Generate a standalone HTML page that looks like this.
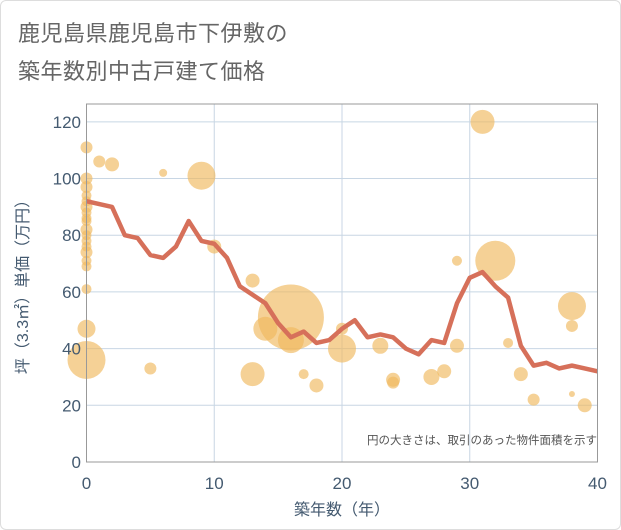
<!DOCTYPE html>
<html><head><meta charset="utf-8"><style>
body{margin:0;background:#fff;}
#wrap{position:relative;width:619px;height:528px;border:1px solid #ddd;border-radius:6px;overflow:hidden;background:#fff;}
svg text{font-family:"Liberation Sans","Noto Sans CJK JP",sans-serif;}
</style></head><body>
<div id="wrap">
<svg id="chart" width="621" height="530">
<text x="17" y="40" font-size="22" fill="#666" letter-spacing="0.5">鹿児島県鹿児島市下伊敷の</text>
<text x="17" y="78" font-size="22" fill="#666" letter-spacing="0.5">築年数別中古戸建て価格</text>
<g id="grid"></g><g id="bubbles"></g><g id="line"></g><g id="axes"></g>
<text x="596" y="443" font-size="11.5" fill="#555" text-anchor="end">円の大きさは、取引のあった物件面積を示す</text>
<text x="341" y="514" font-size="16" fill="#445a70" text-anchor="middle">築年数（年）</text>
<text transform="translate(27,282) rotate(-90)" font-size="16" fill="#445a70" text-anchor="middle">坪（3.3㎡）単価（万円）</text>
</svg>
</div>
<script>
const lineYears=[0,1,2,3,4,5,6,7,8,9,10,11,12,13,14,15,16,17,18,19,20,21,22,23,24,25,26,27,28,29,30,31,32,33,34,35,36,37,38,39,40];
const linePrices=[92,91,90,80,79,73,72,76,85,78,77,72,62,59,56,49,44,46,42,43,47,50,44,45,44,40,38,43,42,56,65,67,62,58,41,34,35,33,34,33,32];
const bubbleYears=[0,1,2,6,9,0,0,0,0,0,0,0,0,0,0,0,0,0,0,0,0,0,0,5,10,13,13,14,16,16,17,18,20,20,23,24,24,27,28,29,29,31,32,33,34,35,38,38,38,39];
const bubblePrices=[111,106,105,102,101,100,97,94,92,90,88,86,85,82,80,78,76,74,71,69,61,47,36,33,76,64,31,47,51,43,31,27,40,47,41,29,28,30,32,41,71,120,71,42,31,22,55,48,24,20];
const bubbleSizes=[6,6,7,4,14,6,6,5,5,6,5,5,5,6,5,5,5,6,5,5,5,9,19,6,7,7,12,12,33,13,5,7,14,6,8,7,6,8,7,7,5,12,20,5,7,6,14,6,3,7];
const xTicks=[0,10,20,30,40];
const yTicks=[0,20,40,60,80,100,120];
const X0=85.5,X1=596.5,Y0=461,Y1=103;
const xs=v=>X0+(v/40)*(X1-X0);
const ys=v=>Y0-(v/126.3)*(Y0-Y1);
const NS="http://www.w3.org/2000/svg";
function mk(t,a,p){const e=document.createElementNS(NS,t);for(const k in a)e.setAttribute(k,a[k]);p.appendChild(e);return e;}
const grid=document.getElementById('grid'),axes=document.getElementById('axes');
for(const t of xTicks){
 const l=mk('line',{x1:xs(t),x2:xs(t),y1:Y1,y2:Y0,stroke:'#c8d6e4','stroke-width':1},grid);
 
 
 const tx=mk('text',{x:xs(t),y:488,'font-size':17,fill:'#445a70','text-anchor':'middle'},axes);
 tx.textContent=t;
 
 
}
for(const t of yTicks){
 const l=mk('line',{x1:X0,x2:X1,y1:ys(t),y2:ys(t),stroke:'#c8d6e4','stroke-width':1},grid);
 
 
 const tx=mk('text',{x:80,y:ys(t)+6,'font-size':17,fill:'#445a70','text-anchor':'end'},axes);
 tx.textContent=t;
 
 
}
const fr=mk('rect',{x:X0,y:Y1,width:X1-X0,height:Y0-Y1,fill:'none',stroke:'#999','stroke-width':1},axes);


const bg=document.getElementById('bubbles');
bubbleYears.forEach((y,i)=>{
 const c=mk('circle',{cx:xs(y),cy:ys(bubblePrices[i]),r:bubbleSizes[i],fill:'#f0b95e','fill-opacity':0.65},bg);
 
 
});
const pts=lineYears.map((y,i)=>xs(y)+','+ys(linePrices[i])).join(' ');
const pl=mk('polyline',{points:pts,fill:'none',stroke:'#d6705a','stroke-width':4.5,'stroke-linejoin':'round'},document.getElementById('line'));


</script>
</body></html>
